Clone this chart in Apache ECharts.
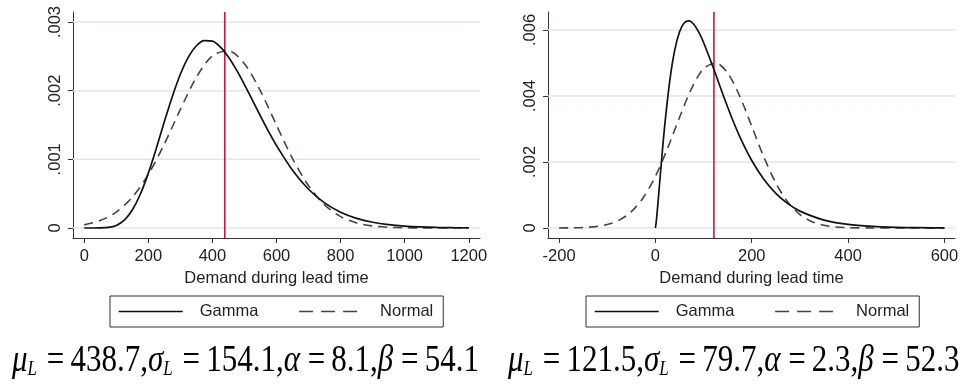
<!DOCTYPE html>
<html><head><meta charset="utf-8">
<script src="https://cdn.jsdelivr.net/npm/echarts@6/dist/echarts.min.js"></script>
<style>html,body{margin:0;padding:0;background:#fff}#c{width:965px;height:384px}</style>
</head><body><div id="c"></div>
<script>
// ---- Left panel data ----
const leftGammaX = [0,25,50,75,100,125,150,175,200,225,250,275,300,325,350,375,400,425,450,475,500,525,550,575,600,650,700,750,800,850,900,950,1000,1050,1100,1150,1200];
const leftGammaY = [0,0.00000001,0.0000007,0.0000076,0.000037,0.0001136,0.000261,0.000491,0.000799,0.001161,0.001547,0.001916,0.002239,0.002489,0.002654,0.002729,0.002721,0.002635,0.002489,0.002302,0.002089,0.00186,0.00163,0.001408,0.0012,0.000841,0.000564,0.000366,0.000229,0.00014,0.0000833,0.0000486,0.0000277,0.0000156,0.0000086,0.0000047,0.0000025];
const leftNormalX = [0,50,100,150,200,250,300,350,400,450,500,550,600,650,700,750,800,850,900,950,1000,1050,1100,1150,1200];
const leftNormalY = [0.000045,0.0001075,0.0002313,0.0004477,0.00078,0.001223,0.001727,0.002194,0.002509,0.002582,0.002392,0.001995,0.001497,0.001011,0.000615,0.000337,0.0001657,0.0000735,0.0000293,0.0000105,0.0000034,0.000001,0.0000003,0.0000001,0];
const leftMean = 438.7;
const leftXTicks = [0,200,400,600,800,1000,1200];
const leftYTicks = [0,0.001,0.002,0.003];
const leftCaption = ['438.7','154.1','8.1','54.1'];

// ---- Right panel data ----
const rightGammaX = [0,2,5,10,15,20,30,40,50,60,70,80,90,100,120,140,160,180,200,225,250,275,300,350,400,450,500,550,600];
const rightGammaY = [0,0.000227,0.000704,0.001576,0.002425,0.003203,0.004482,0.005381,0.00594,0.006218,0.006276,0.006166,0.005935,0.005622,0.004862,0.004052,0.003289,0.002615,0.002046,0.001478,0.001051,0.000737,0.000512,0.00024,0.00011,0.0000493,0.0000217,0.0000095,0.0000041];
const rightNormalX = [-200,-175,-150,-125,-100,-75,-50,-25,0,25,50,75,100,125,150,175,200,225,250,275,300,325,350,375,400,450,500,550,600];
const rightNormalY = [0.0000015,0.0000049,0.0000151,0.0000419,0.0001052,0.0002395,0.0004943,0.000924,0.001566,0.002405,0.003347,0.004222,0.004826,0.005,0.004695,0.003996,0.003082,0.002154,0.001364,0.000783,0.000408,0.000192,0.000082,0.000032,0.000011,0.000001,0,0,0];
const rightMean = 121.5;
const rightXTicks = [-200,0,200,400,600];
const rightYTicks = [0,0.002,0.004,0.006];
const rightCaption = ['121.5','79.7','2.3','52.3'];

// axis ranges (Stata-style padding beyond the outer ticks)
const leftXRange = [-35, 1235], leftYRange = [-0.000146, 0.003146];
const rightXRange = [-223, 622], rightYRange = [-0.000303, 0.006545];

const zip = (xs, ys) => xs.map((x, i) => [x, ys[i]]);
const fmtY = v => v === 0 ? '0' : String(+v.toFixed(4)).replace(/^0/, '');
const fmtX = v => String(v);
const FONT = 'Liberation Sans, Arial, sans-serif';
const SERIF = 'Liberation Serif, Times New Roman, serif';
const TXT = '#222';

function xAxis(gi, r, ticks) {
  return {
    type: 'value', gridIndex: gi, min: r[0], max: r[1],
    name: 'Demand during lead time', nameLocation: 'middle', nameGap: 30,
    nameTextStyle: { fontFamily: FONT, fontSize: 16.5, color: TXT },
    axisLine: { onZero: false, lineStyle: { color: '#333', width: 1 } },
    axisTick: { show: true, length: 5, customValues: ticks, lineStyle: { color: '#333' } },
    axisLabel: { customValues: ticks, margin: 10, fontFamily: FONT, fontSize: 16.5, color: TXT, formatter: fmtX },
    splitLine: { show: false }
  };
}
function yAxis(gi, r, ticks) {
  return {
    type: 'value', gridIndex: gi, min: r[0], max: r[1],
    axisLine: { show: true, onZero: false, lineStyle: { color: '#333', width: 1 } },
    axisTick: { show: true, length: 5, customValues: ticks, lineStyle: { color: '#333' } },
    axisLabel: { customValues: ticks, rotate: 90, margin: 9, fontFamily: FONT, fontSize: 16.5, color: TXT, formatter: fmtY },
    splitLine: { show: false }
  };
}
function refLine(gi, data, color, width, z) {
  return { type: 'line', xAxisIndex: gi, yAxisIndex: gi, data, symbol: 'none', silent: true, z,
    lineStyle: { color, width, type: 'solid' }, tooltip: { show: false } };
}
function series(gi, gx, gy, nx, ny, yTicks, mean, xr, yr) {
  const grids = yTicks.map(v => refLine(gi, [[xr[0], v], [xr[1], v]], '#dde8ea', 1.5, 1));
  return grids.concat([
    refLine(gi, [[mean, yr[0]], [mean, yr[1]]], '#d2143f', 1.6, 2),
    { name: 'Gamma', type: 'line', xAxisIndex: gi, yAxisIndex: gi, data: zip(gx, gy), smooth: 0.3,
      symbol: 'none', lineStyle: { color: '#111', width: 1.7, type: 'solid' }, itemStyle: { color: '#111' }, z: 4 },
    { name: 'Normal', type: 'line', xAxisIndex: gi, yAxisIndex: gi, data: zip(nx, ny), smooth: 0.3,
      symbol: 'none', lineStyle: { color: '#444', width: 1.6, type: [9, 6] }, itemStyle: { color: '#444' }, z: 3 }
  ]);
}
function legend(left) {
  return {
    left, top: 296, orient: 'horizontal', itemWidth: 64, itemHeight: 14, itemGap: 40,
    padding: [7, 10, 7, 8], borderColor: '#333', borderWidth: 1, backgroundColor: '#fff',
    selectedMode: false,
    itemStyle: { opacity: 0 },
    textStyle: { fontFamily: FONT, fontSize: 16.5, color: TXT, padding: [0, 0, 0, 12] },
    data: [
      { name: 'Gamma', lineStyle: { type: 'solid', width: 1.4, color: '#111' }, itemStyle: { opacity: 0 } },
      { name: 'Normal', lineStyle: { type: [14, 8], width: 1.4, color: '#444' }, itemStyle: { opacity: 0 } }
    ]
  };
}
function caption(x, vals) {
  const [m, s, a, b] = vals;
  return {
    type: 'text', x: x, y: 380, scaleY: 1.2,
    style: {
      text: `{g|μ}{s|L}{n| =\u2009${m},}{g|σ}{s|L}{n| =\u2009${s},}{g|α}{n| =\u2009${a},}{g|β}{n| =\u2009${b}}`,
      verticalAlign: 'bottom',
      rich: {
        g: { fontFamily: SERIF, fontStyle: 'italic', fontSize: 31, fill: '#000', verticalAlign: 'bottom' },
        s: { fontFamily: SERIF, fontStyle: 'italic', fontSize: 17, fill: '#000', verticalAlign: 'bottom', padding: [0, 2, 0, 0] },
        n: { fontFamily: SERIF, fontSize: 31, fill: '#000', verticalAlign: 'bottom' }
      }
    }
  };
}

const chart = echarts.init(document.getElementById('c'), null, { renderer: 'canvas' });
chart.setOption({
  backgroundColor: '#fff',
  animation: false,
  grid: [
    { left: 73, top: 12, width: 407, height: 226 },
    { left: 548, top: 12, width: 407, height: 226 }
  ],
  xAxis: [xAxis(0, leftXRange, leftXTicks), xAxis(1, rightXRange, rightXTicks)],
  yAxis: [yAxis(0, leftYRange, leftYTicks), yAxis(1, rightYRange, rightYTicks)],
  legend: [legend(110), legend(586)],
  series: series(0, leftGammaX, leftGammaY, leftNormalX, leftNormalY, leftYTicks, leftMean, leftXRange, leftYRange)
    .concat(series(1, rightGammaX, rightGammaY, rightNormalX, rightNormalY, rightYTicks, rightMean, rightXRange, rightYRange)),
  graphic: [caption(12, leftCaption), caption(508, rightCaption)]
});
</script></body></html>
